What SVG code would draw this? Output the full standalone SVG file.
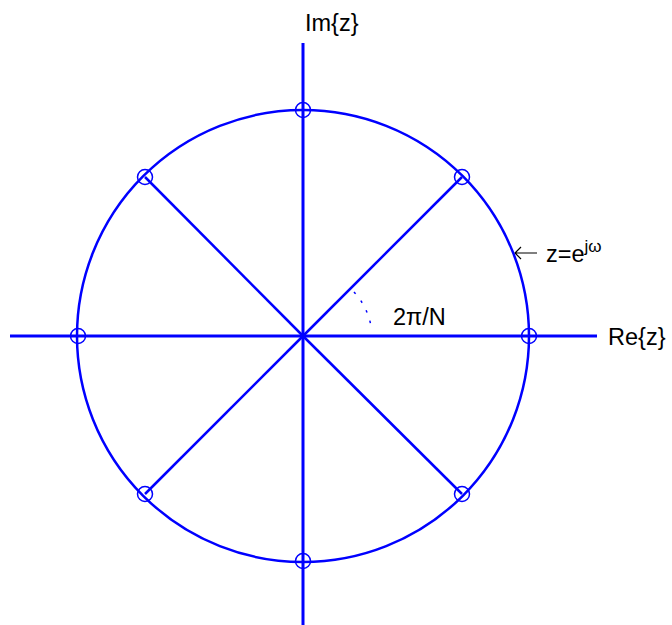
<svg xmlns="http://www.w3.org/2000/svg" width="672" height="625" viewBox="0 0 672 625">
<style>
.ax{stroke:#0000ff;stroke-width:3;fill:none}
.ln{stroke:#0000ff;stroke-width:2.5;fill:none}
.mk{stroke:#0000ff;stroke-width:1.5;fill:none}
.t{font-family:"Liberation Sans",Arial,sans-serif;font-size:23.5px;fill:#000}
</style>
<rect width="672" height="625" fill="#fff"/>
<g id="connectors">
<line class="ax" x1="10" y1="336" x2="597" y2="336"/>
<line class="ax" x1="303" y1="43" x2="303" y2="625"/>
<line class="ln" x1="303" y1="336" x2="462" y2="177"/>
<line class="ln" x1="303" y1="336" x2="145" y2="177"/>
<line class="ln" x1="303" y1="336" x2="145" y2="494"/>
<line class="ln" x1="303" y1="336" x2="462" y2="494"/>
<path d="M 354 292 A 68 68 0 0 1 371 326" stroke="#0000ff" stroke-width="1.5" fill="none" stroke-dasharray="2.5 8.5"/>
<path d="M 537 253 H 515 M 521 247 L 515 253 L 521 259" stroke="#000" stroke-width="1.2" fill="none"/>
</g>
<g id="unit-circle"><circle class="ln" cx="303" cy="336" r="226"/></g>
<g id="roots">
<g id="r0"><circle class="mk" cx="529" cy="336" r="7.5"/></g>
<g id="r1"><circle class="mk" cx="462" cy="177" r="7.5"/></g>
<g id="r2"><circle class="mk" cx="303" cy="110" r="7.5"/></g>
<g id="r3"><circle class="mk" cx="145" cy="177" r="7.5"/></g>
<g id="r4"><circle class="mk" cx="78" cy="336" r="7.5"/></g>
<g id="r5"><circle class="mk" cx="145" cy="494" r="7.5"/></g>
<g id="r6"><circle class="mk" cx="303" cy="561" r="7.5"/></g>
<g id="r7"><circle class="mk" cx="462" cy="494" r="7.5"/></g>
</g>
<g id="labels">
<text class="t" x="305" y="31">Im{z}</text>
<text class="t" x="608" y="345">Re{z}</text>
<text class="t" x="393" y="325">2π/N</text>
<text class="t" x="546" y="262">z=e<tspan font-size="17" dy="-10">jω</tspan></text>
</g>
</svg>
